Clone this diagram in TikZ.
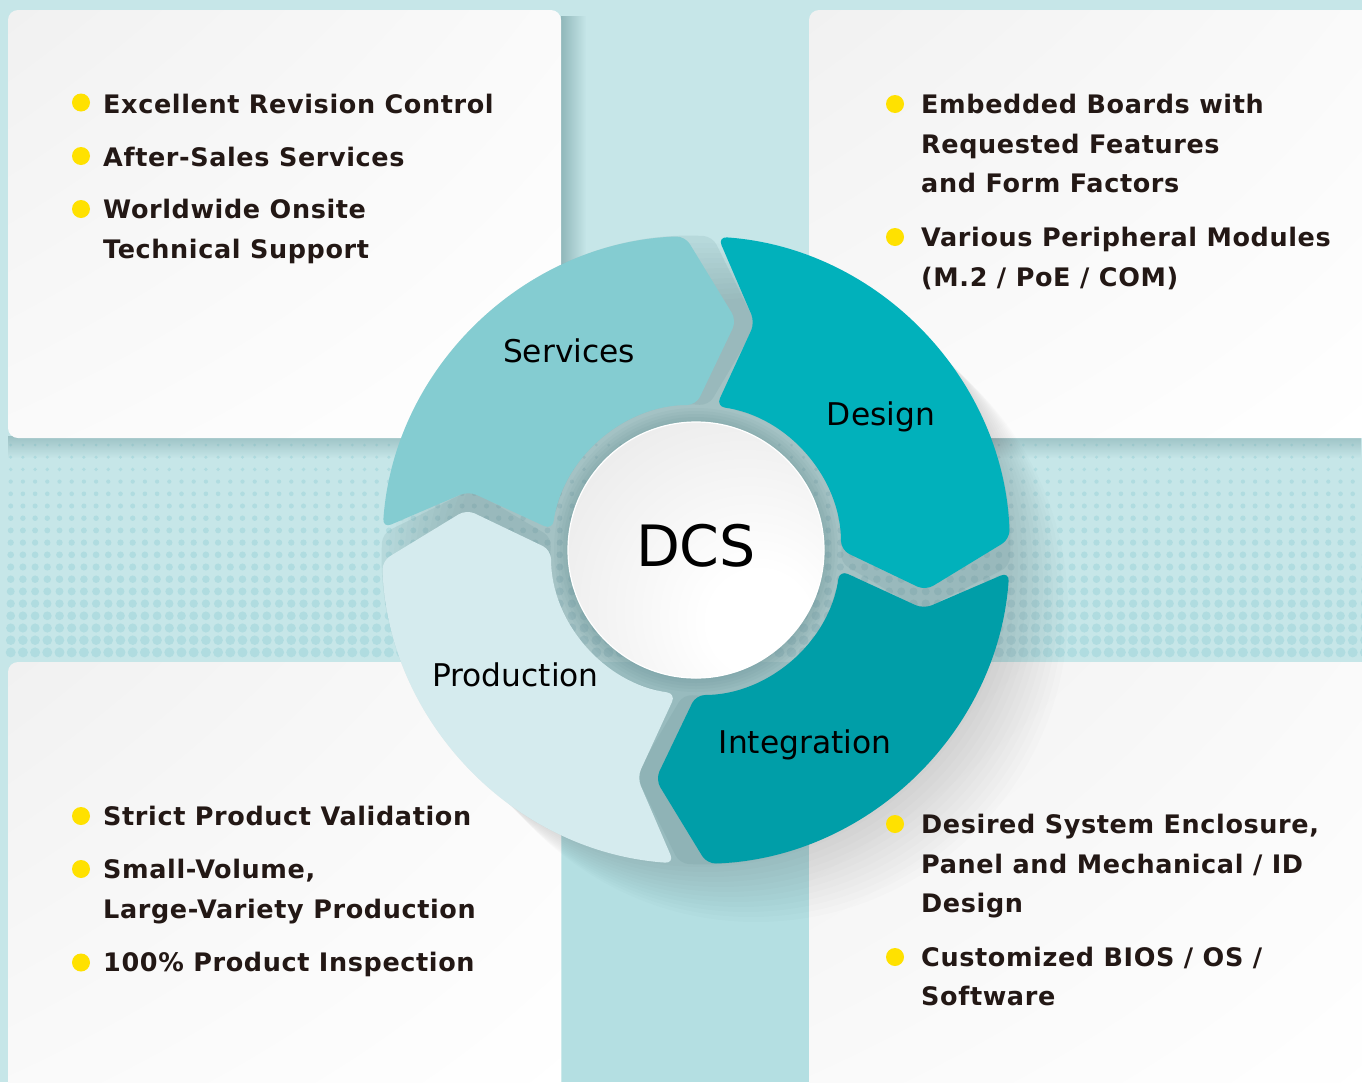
\documentclass[tikz,border=0pt]{standalone}
\usepackage{fontspec}
\setmainfont{DejaVu Sans}
\newfontfamily\itemfont[LetterSpace=2.4]{DejaVu Sans}
\usetikzlibrary{fadings,shadings}
\definecolor{bgc}{HTML}{C6E6E8}
\definecolor{stripc}{HTML}{B4DFE2}
\definecolor{dotc}{HTML}{B0DCE0}
\definecolor{servc}{HTML}{84CCD1}
\definecolor{desc}{HTML}{01B1BB}
\definecolor{intc}{HTML}{009EA8}
\definecolor{prodc}{HTML}{D5EBEE}
\definecolor{bulc}{HTML}{FFE100}
\definecolor{txtc}{HTML}{231815}
\definecolor{shadc}{HTML}{4F7F83}
\definecolor{discedge}{HTML}{D6D6D6}
\definecolor{discmid}{HTML}{EBEBEB}
\definecolor{panelg}{HTML}{F1F1F1}
\definecolor{panelm}{HTML}{FAFAFA}
\pgfdeclareradialshading{discshade}{\pgfpoint{14bp}{-16bp}}{color(0bp)=(white);color(10bp)=(white);color(40bp)=(discmid);color(72bp)=(discedge);color(90bp)=(discedge)}
\tikzset{
  seg/.style={insert path={({86+#1}:314) arc[start angle={86+#1}, end angle={2+#1}, radius=314] -- ({-10+#1}:233) -- ({#1}:145) arc[start angle={#1}, end angle={82+#1}, radius=145] -- ({75.5+#1}:235) -- cycle}},
  panel/.style={rounded corners=10pt, upper left=panelg, upper right=panelm, lower left=panelm, lower right=white},
  bullet/.style={circle, fill=bulc, minimum size=18pt, inner sep=0pt},
  item/.style={anchor=base west, inner sep=0pt, text=txtc, font=\itemfont\bfseries\fontsize{25.5}{30}\selectfont},
  seglabel/.style={anchor=base, inner sep=0pt, text=black, font=\fontsize{31.3}{36}\selectfont}
}
\begin{document}
\begin{tikzpicture}[x=1pt, y=-1pt]
\useasboundingbox (0,0) rectangle (1362,1082);
\clip (0,0) rectangle (1362,1082);
% background
\fill[bgc] (0,0) rectangle (1362,1082);
\fill[stripc] (562,662) rectangle (809,1082);
% dotted band
\foreach \j in {0,...,17} {
  \pgfmathsetmacro\rr{1.5+0.205*\j}
  \foreach \i in {0,...,111} {
    \fill[dotc] ({10.7+12.2*\i},{445+12.2*\j}) circle (\rr pt);
  }
}
% panel shadows
\fill[shadc, opacity=0.45, path fading=east] (561,16) rectangle (586,438);
\fill[shadc, opacity=0.35, path fading=south] (8,436) rectangle (561,458);
\fill[shadc, opacity=0.35, path fading=south] (809,436) rectangle (1362,458);
% panels
\shade[panel] (8,10) rectangle (561,438);
\shade[panel] (809,10) rectangle (1372,438);
\shade[panel] (8,662) rectangle (561,1100);
\shade[panel] (809,662) rectangle (1372,1100);
% long shadow of the ring
\foreach \t in {5,10,...,60} {
  \fill[black, opacity=0.012] ({696+\t},{550+\t}) circle (312pt);
}
\begin{scope}[shift={(696,550)}, yscale=-1]
  % shadows of segments into the gaps
  \foreach \a in {0,90,180,270} {
    \fill[shadc, opacity=0.12, rounded corners=9pt, seg={\a-5}];
  }
  \fill[desc, rounded corners=9pt, seg=0];
  \fill[servc, rounded corners=9pt, seg=90];
  \fill[prodc, rounded corners=9pt, seg=180];
  \fill[intc, rounded corners=9pt, seg=270];
  % halo around the disc
  \foreach \r in {142,139,...,129} {
    \fill[shadc, opacity=0.06] (0,0) circle (\r pt);
  }
\end{scope}
\shade[shading=discshade] (696,550) circle (128pt);
\draw[white, line width=1.2pt] (696,550) circle (128pt);
\node[anchor=base, inner sep=0pt, font=\fontsize{57}{60}\selectfont] (dcs) at (696,566) {DCS};
% segment labels
\node[seglabel] (lserv) at (569,362) {Services};
\node[seglabel] (ldes) at (881,425) {Design};
\node[seglabel] (lprod) at (515.5,686.3) {Production};
\node[seglabel] (lint) at (805,753.7) {Integration};
% top-left panel
\node[bullet] (b1) at (81,102.5) {};
\node[item] (t1) at (103,113.3) {Excellent Revision Control};
\node[bullet] (b2) at (81,156) {};
\node[item] (t2) at (103,166) {After-Sales Services};
\node[bullet] (b3) at (81,209) {};
\node[item] (t3) at (103,218.5) {Worldwide Onsite};
\node[item] (t4) at (103,258.5) {Technical Support};
% top-right panel
\node[bullet] (b4) at (895,104) {};
\node[item] (t5) at (921,113.3) {Embedded Boards with};
\node[item] (t6) at (921,153) {Requested Features};
\node[item] (t7) at (921,192.5) {and Form Factors};
\node[bullet] (b5) at (895,237) {};
\node[item] (t8) at (921,246) {Various Peripheral Modules};
\node[item] (t9) at (921,286) {(M.2 / PoE / COM)};
% bottom-left panel
\node[bullet] (b6) at (81,816) {};
\node[item] (t10) at (103,825) {Strict Product Validation};
\node[bullet] (b7) at (81,869) {};
\node[item] (t11) at (103,878.3) {Small-Volume,};
\node[item] (t12) at (103,918.3) {Large-Variety Production};
\node[bullet] (b8) at (81,962.5) {};
\node[item] (t13) at (103,971.7) {100\% Product Inspection};
% bottom-right panel
\node[bullet] (b9) at (895,824) {};
\node[item] (t14) at (921,833.3) {Desired System Enclosure,};
\node[item] (t15) at (921,873) {Panel and Mechanical / ID};
\node[item] (t16) at (921,912) {Design};
\node[bullet] (b10) at (895,957) {};
\node[item] (t17) at (921,966) {Customized BIOS / OS /};
\node[item] (t18) at (921,1005.5) {Software};
\end{tikzpicture}
\end{document}
